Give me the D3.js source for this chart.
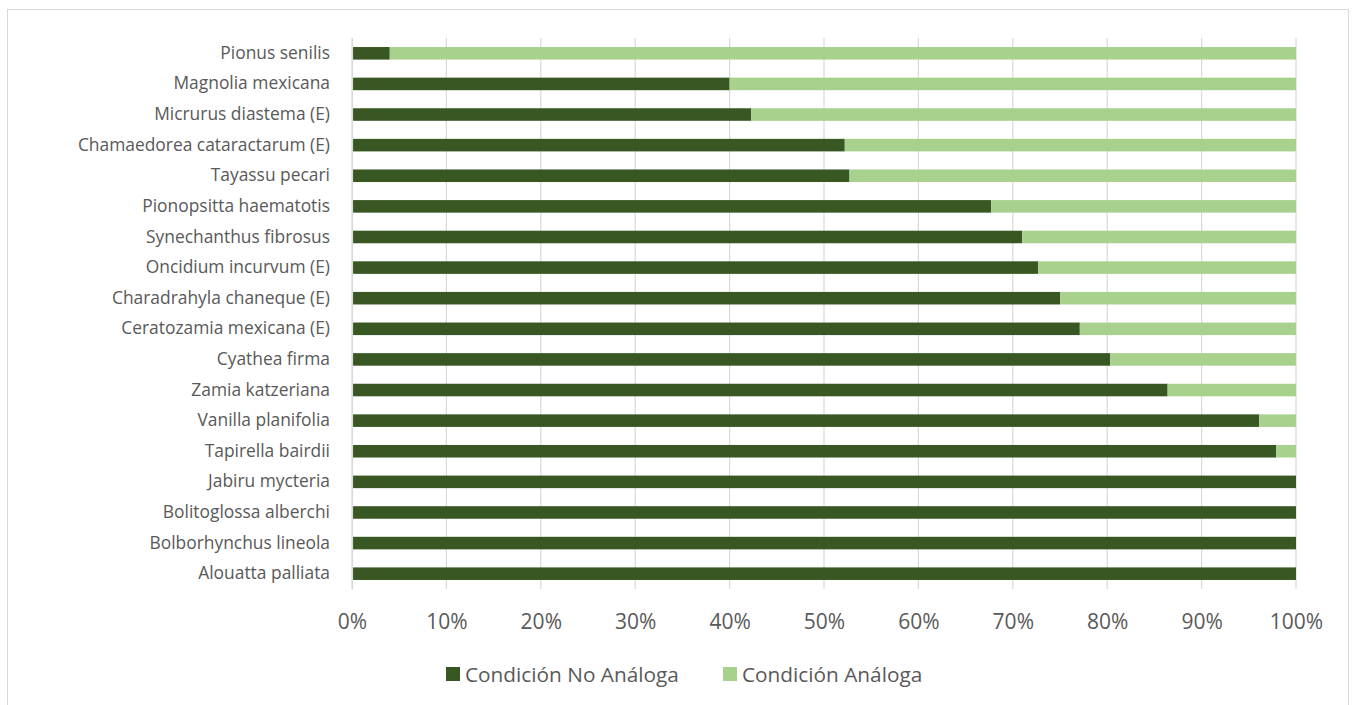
<!DOCTYPE html>
<html><head><meta charset="utf-8">
<script src="https://cdn.jsdelivr.net/npm/d3@7"></script>
<style>body{margin:0;background:#fff;} text{font-family:"Open Sans","Liberation Sans",sans-serif;}</style>
</head><body><svg id="c" width="1353" height="705"></svg>
<script>
const categories = ["Pionus senilis","Magnolia mexicana","Micrurus diastema (E)","Chamaedorea cataractarum (E)","Tayassu pecari","Pionopsitta haematotis","Synechanthus fibrosus","Oncidium incurvum (E)","Charadrahyla chaneque (E)","Ceratozamia mexicana (E)","Cyathea firma","Zamia katzeriana","Vanilla planifolia","Tapirella bairdii","Jabiru mycteria","Bolitoglossa alberchi","Bolborhynchus lineola","Alouatta palliata"];
const noAnaloga = [4.0,40.0,42.3,52.2,52.7,67.7,71.0,72.7,75.0,77.1,80.3,86.4,96.1,97.9,100,100,100,100];
const analoga = noAnaloga.map(v => 100 - v);
const seriesNames = ["Condición No Análoga","Condición Análoga"];
const seriesColors = ["#385723","#A9D18E"];
const tickValues = [0,10,20,30,40,50,60,70,80,90,100];

const svg = d3.select("#c");
svg.append("rect").attr("x",7.5).attr("y",9.5).attr("width",1341).attr("height",700).attr("fill","#fff").attr("stroke","#d9d9d9");
const pL=352, pR=1296, pT=38, pB=589;
const x = d3.scaleLinear().domain([0,100]).range([pL,pR]);
const y = d3.scaleBand().domain(categories).range([pT,pB]).paddingInner(0.59).paddingOuter(0.295);

const g = svg.append("g");
g.selectAll("line.grid").data(tickValues).join("line")
 .attr("x1",d=>x(d)).attr("x2",d=>x(d)).attr("y1",pT).attr("y2",pB)
 .attr("stroke","#d9d9d9").attr("stroke-width",1.2);

const data = categories.map((c,i)=>({c, a:noAnaloga[i], b:analoga[i]}));
const stack = d3.stack().keys(["a","b"])(data);
g.selectAll("g.s").data(stack).join("g").attr("fill",(d,i)=>seriesColors[i])
 .selectAll("rect").data(d=>d).join("rect")
 .attr("x",d=>x(d[0])).attr("width",d=>x(d[1])-x(d[0]))
 .attr("y",d=>y(d.data.c)).attr("height",y.bandwidth());

const xa = d3.axisBottom(x).tickValues(tickValues).tickFormat(d=>d+"%").tickSize(0).tickPadding(0);
const xg = svg.append("g").attr("transform",`translate(0,${pB})`).call(xa);
xg.select(".domain").remove();
xg.selectAll("text").attr("fill","#595959").attr("font-size","21px").attr("dy",null).attr("y",40);

const ya = d3.axisLeft(y).tickSize(0).tickPadding(22);
const yg = svg.append("g").attr("transform",`translate(${pL},0)`).call(ya);
yg.select(".domain").attr("stroke","#d9d9d9").attr("stroke-width",1.2);
yg.selectAll("text").attr("fill","#595959").attr("font-size","17.4px");

const leg = svg.append("g");
const items = [{x:446},{x:723}];
items.forEach((it,i)=>{
  leg.append("rect").attr("x",it.x).attr("y",667).attr("width",14).attr("height",14).attr("fill",seriesColors[i]);
  leg.append("text").attr("x",it.x+19).attr("y",682).attr("fill","#595959").attr("font-size","20.8px").text(seriesNames[i]);
});
</script></body></html>
